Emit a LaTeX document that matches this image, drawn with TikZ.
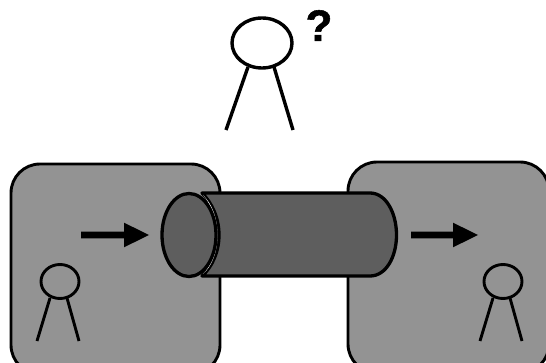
\documentclass[tikz,border=0pt]{standalone}
\usepackage{fontspec}
\setmainfont[BoldFeatures={FakeBold=1.3}]{Liberation Sans}
\tikzset{
  room/.style={fill=boxgray,draw=black,line width=2.9pt,rounded corners=29pt},
  tube/.style={fill=tubegray,draw=black,line width=3.3pt,line join=round},
  flow/.style={draw=none,fill=black},
  headbig/.style={draw=black,line width=3.4pt},
  legbig/.style={draw=black,line width=3.4pt},
  headsmall/.style={draw=black,line width=2.9pt},
  legsmall/.style={draw=black,line width=2.9pt}
}
\definecolor{boxgray}{HTML}{939393}
\definecolor{tubegray}{HTML}{5E5E5E}
\begin{document}
\begin{tikzpicture}[x=1pt,y=-1pt]
\useasboundingbox (0,0) rectangle (546,363);
\clip (0,0) rectangle (546,363);
\fill[white] (0,0) rectangle (546,363);
% rooms
\draw[room] (11,164) rectangle (220,374);
\draw[room] (348,162) rectangle (549,373);
% tube body
\draw[tube] (202,193) -- (370,193)
  .. controls (386,193) and (396.5,213) .. (396.5,235)
  .. controls (396.5,257) and (386,276) .. (370,276)
  -- (202,276)
  .. controls (212,267) and (219,252) .. (219,235)
  .. controls (219,218) and (212,203) .. (202,193) -- cycle;
% gap between face and body
\fill[white] (203,195) .. controls (212,204) and (217.5,218) .. (217.5,235)
  .. controls (217.5,252) and (212,266) .. (203,274)
  .. controls (211,266) and (216,252) .. (216,235)
  .. controls (216,218) and (211,204) .. (203,195) -- cycle;
% tube face
\draw[tube] (189,235) ellipse [x radius=27,y radius=41.5];
% arrows
\fill[flow] (81,231.7) -- (124,231.7) -- (124,222.7) -- (149,235) -- (124,247.3) -- (124,238.3) -- (81,238.3) -- cycle;
\fill[flow] (411,231.7) -- (453,231.7) -- (453,222.7) -- (478,235) -- (453,247.3) -- (453,238.3) -- (411,238.3) -- cycle;
% top person
\draw[headbig] (262,43) ellipse [x radius=30,y radius=25];
\coordinate (tl) at (248,67); \coordinate (tlf) at (226,130);
\coordinate (tr) at (274,67); \coordinate (trf) at (293,130);
\draw[legbig] (tl) -- (tlf);
\draw[legbig] (tr) -- (trf);
\node[inner sep=0pt,font=\fontsize{44}{44}\selectfont\bfseries] (q) at (319,25.5) {?};
% left person
\draw[headsmall] (60,281.5) ellipse [x radius=19,y radius=17];
\coordinate (ll) at (50,298); \coordinate (llf) at (37,341);
\coordinate (lr) at (67,298); \coordinate (lrf) at (79,341);
\draw[legsmall] (ll) -- (llf);
\draw[legsmall] (lr) -- (lrf);
% right person
\draw[headsmall] (503,281.5) ellipse [x radius=19,y radius=17];
\coordinate (rl) at (493,298); \coordinate (rlf) at (480,341);
\coordinate (rr) at (510,298); \coordinate (rrf) at (522,341);
\draw[legsmall] (rl) -- (rlf);
\draw[legsmall] (rr) -- (rrf);
\end{tikzpicture}
\end{document}
